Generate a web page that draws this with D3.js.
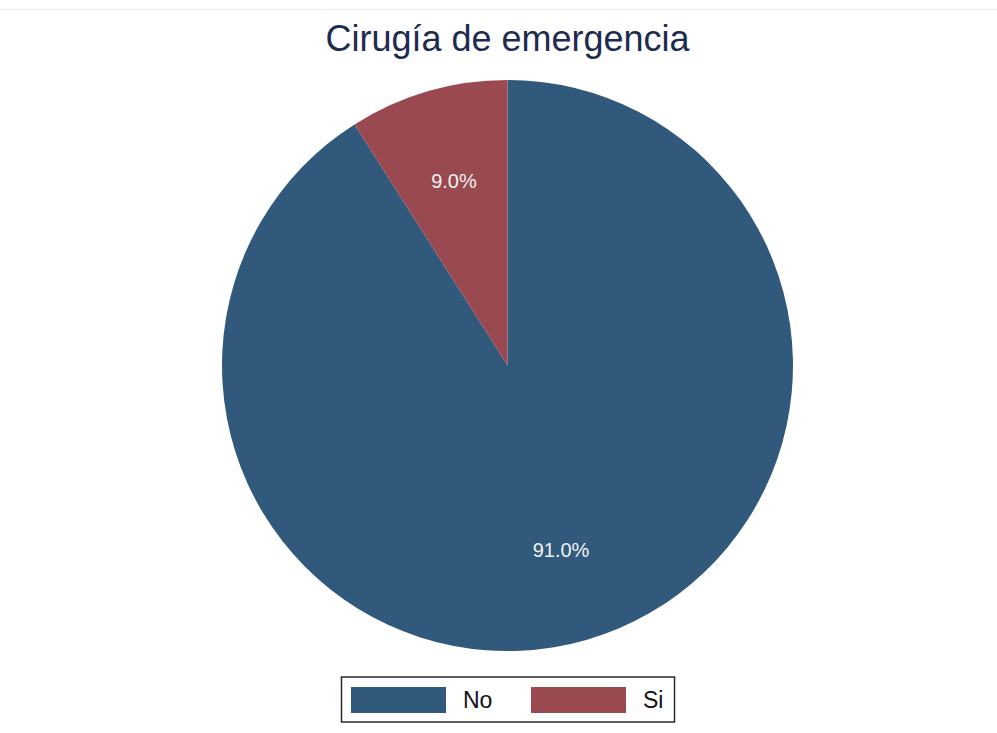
<!DOCTYPE html>
<html>
<head>
<meta charset="utf-8">
<script src="https://cdn.jsdelivr.net/npm/d3@7"></script>
<style>
  html, body { margin: 0; padding: 0; background: #ffffff; }
  svg { display: block; font-family: "Liberation Sans", Arial, sans-serif; }
</style>
</head>
<body>
<svg id="chart" width="997" height="733"></svg>
<script>
// Emergency surgery share
const categories = ["No", "Si"];
const values = [91.0, 9.0];
const sliceColors = ["#31597c", "#9a4950"];
const titleText = "Cirugía de emergencia";

const width = 997, height = 733;
const svg = d3.select("#chart");

// thin rule across the top
svg.append("line")
  .attr("x1", 0).attr("x2", width)
  .attr("y1", 9.5).attr("y2", 9.5)
  .attr("stroke", "#e9ecef").attr("stroke-width", 1);

svg.append("text")
  .attr("x", 507.5).attr("y", 51)
  .attr("text-anchor", "middle")
  .attr("font-size", 36)
  .attr("fill", "#1d2b50")
  .text(titleText);

const cx = 507.5, cy = 365.5, radius = 285.5;
const data = categories.map((c, i) => ({ cat: c, value: values[i] }));

const color = d3.scaleOrdinal().domain(categories).range(sliceColors);
const pie = d3.pie().sort(null).value(d => d.value);
const arc = d3.arc().innerRadius(0).outerRadius(radius);
const labelArc = d3.arc().innerRadius(radius * 0.672).outerRadius(radius * 0.672);

const g = svg.append("g").attr("transform", `translate(${cx},${cy})`);
const arcs = pie(data);

g.selectAll("path.slice")
  .data(arcs)
  .join("path")
  .attr("class", "slice")
  .attr("d", arc)
  .attr("fill", d => color(d.data.cat));

g.selectAll("text.pct")
  .data(arcs)
  .join("text")
  .attr("class", "pct")
  .attr("transform", d => {
    const [x, y] = labelArc.centroid(d);
    return `translate(${x},${y})`;
  })
  .attr("text-anchor", "middle")
  .attr("dy", "0.36em")
  .attr("font-size", 20)
  .attr("fill", "#f2f2f2")
  .text(d => d3.format(".1f")(d.data.value) + "%");

// legend
const legend = svg.append("g");
legend.append("rect")
  .attr("x", 341.5).attr("y", 677)
  .attr("width", 333).attr("height", 45)
  .attr("fill", "#ffffff")
  .attr("stroke", "#2a2a2a").attr("stroke-width", 1.5);

const legendX = d3.scalePoint().domain(categories).range([351, 531]);
const items = legend.selectAll("g.item")
  .data(categories)
  .join("g")
  .attr("class", "item")
  .attr("transform", d => `translate(${legendX(d)},687)`);

items.append("rect")
  .attr("width", 95).attr("height", 26)
  .attr("fill", d => color(d));

items.append("text")
  .attr("x", 112).attr("y", 21)
  .attr("font-size", 23)
  .attr("fill", "#111111")
  .text(d => d);
</script>
</body>
</html>
